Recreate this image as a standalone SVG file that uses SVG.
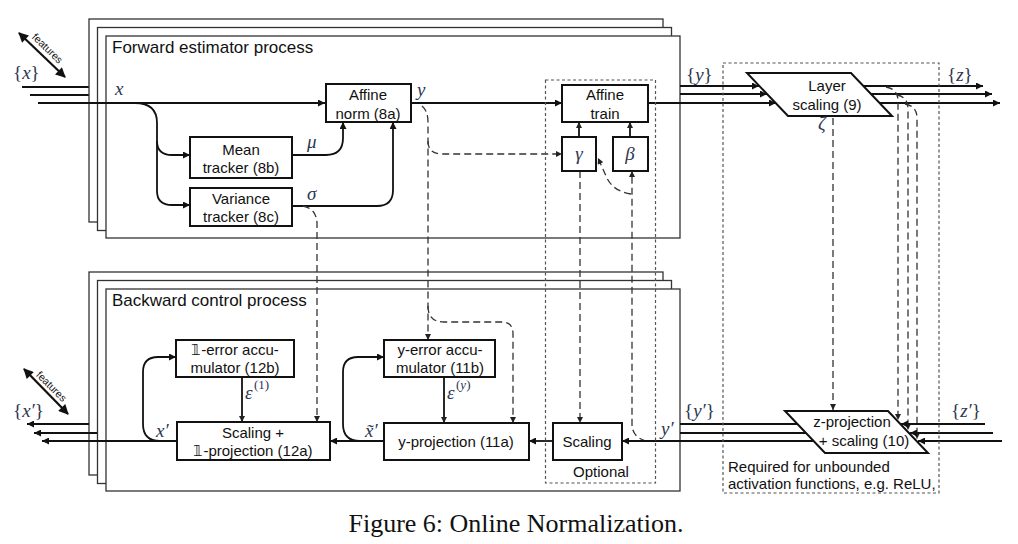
<svg xmlns="http://www.w3.org/2000/svg" width="1018" height="544" viewBox="0 0 1018 544">
<defs>
<style>
.fr{fill:#fff;stroke:#333;stroke-width:1.3}
.bx{fill:#fff;stroke:#111;stroke-width:2}
.ln{fill:none;stroke:#111;stroke-width:1.8}
.da{fill:none;stroke:#333;stroke-width:1.3;stroke-dasharray:7 4}
.dot{fill:none;stroke:#555;stroke-width:1.2;stroke-dasharray:3 2.5}
.t{font-family:"Liberation Sans",Arial,sans-serif;font-size:15px;fill:#111;text-anchor:middle}
.ts{font-family:"Liberation Sans",Arial,sans-serif;font-size:15px;fill:#111}
.ti{font-family:"Liberation Sans",Arial,sans-serif;font-size:17px;fill:#111}
.f{font-family:"Liberation Sans",Arial,sans-serif;font-size:10.5px;fill:#111;text-anchor:middle}
.m{font-family:"Liberation Serif","DejaVu Serif",serif;font-style:italic;font-size:19px;fill:#2e3650}
.up{font-style:normal}
.sup{font-family:"Liberation Serif","DejaVu Serif",serif;font-size:13px;fill:#2e3650}
.cap{font-family:"Liberation Serif","Times New Roman",serif;font-size:26px;fill:#111;text-anchor:middle}
</style>
<marker id="ah" viewBox="0 0 10 10" refX="10" refY="5" markerWidth="9" markerHeight="7" markerUnits="userSpaceOnUse" orient="auto"><path d="M0,0 L10,5 L0,10 z" fill="#111"/></marker>
<marker id="ahs" viewBox="0 0 10 10" refX="10" refY="5" markerWidth="8" markerHeight="6" markerUnits="userSpaceOnUse" orient="auto"><path d="M0,0 L10,5 L0,10 z" fill="#222"/></marker>
<marker id="big" viewBox="0 0 10 10" refX="9" refY="5" markerWidth="12" markerHeight="10" markerUnits="userSpaceOnUse" orient="auto-start-reverse"><path d="M0,0 L10,5 L0,10 z" fill="#111"/></marker>
</defs>
<rect width="1018" height="544" fill="#fff"/>

<!-- external input lines -->
<g id="inputs">
<line class="ln" x1="22" y1="87" x2="89" y2="87"/>
<line class="ln" x1="30" y1="95" x2="97" y2="95"/>
</g>

<!-- forward frames -->
<g id="forward-frames">
<rect class="fr" x="89" y="19" width="574" height="203"/>
<rect class="fr" x="97.5" y="27.5" width="574" height="203"/>
<rect class="fr" x="106" y="36" width="574" height="202"/>
<text class="ti" x="112" y="53">Forward estimator process</text>
</g>

<!-- backward frames -->
<g id="backward-frames">
<rect class="fr" x="89" y="272" width="574" height="203"/>
<rect class="fr" x="97.5" y="280.5" width="574" height="203"/>
<rect class="fr" x="106" y="289" width="574" height="202"/>
<text class="ti" x="112" y="306">Backward control process</text>
</g>

<!-- connectors -->
<g id="connectors">
<!-- forward solid -->
<line class="ln" x1="38" y1="103" x2="325" y2="103" marker-end="url(#ah)"/>
<path class="ln" d="M135 103 Q157 103 157 123 L157 141 Q157 155 172 155 L190 155" marker-end="url(#ah)"/>
<path class="ln" d="M157 141 L157 191 Q157 205 172 205 L190 205" marker-end="url(#ah)"/>
<path class="ln" d="M292 155 L326 155 Q343 155 343 138 L343 122" marker-end="url(#ah)"/>
<path class="ln" d="M292 206 L377 206 Q393 206 393 190 L393 122" marker-end="url(#ah)"/>
<line class="ln" x1="411" y1="103" x2="562" y2="103" marker-end="url(#ah)"/>
<line class="ln" x1="579" y1="137" x2="579" y2="122" marker-end="url(#ahs)"/>
<line class="ln" x1="630" y1="137" x2="630" y2="122" marker-end="url(#ahs)"/>
<line class="ln" x1="648" y1="103" x2="776" y2="103" marker-end="url(#ah)"/>
<line class="ln" x1="680" y1="86" x2="759" y2="86" marker-end="url(#ah)"/>
<line class="ln" x1="680" y1="94" x2="767" y2="94" marker-end="url(#ah)"/>
<line class="ln" x1="863" y1="86" x2="983" y2="86" marker-end="url(#ah)"/>
<line class="ln" x1="871" y1="94" x2="992" y2="94" marker-end="url(#ah)"/>
<line class="ln" x1="880" y1="103" x2="1000" y2="103" marker-end="url(#ah)"/>
<!-- forward dashed -->
<path class="da" d="M422 106 Q428 111 428 122 L428 340" marker-end="url(#ahs)"/>
<path class="da" d="M428 141 Q428 154 442 154 L562 154" marker-end="url(#ahs)"/>
<path class="da" d="M428 306 Q428 322 444 322 L502 322 Q513 322 513 334 L513 423" marker-end="url(#ahs)"/>
<path class="da" d="M303 206 Q317 209 317 224 L317 422" marker-end="url(#ahs)"/>
<line class="da" x1="580" y1="171" x2="580" y2="423" marker-end="url(#ahs)"/>
<path class="da" d="M646 441 Q632 437 632 424 L632 171" marker-end="url(#ahs)"/>
<path class="da" d="M631 194 Q612 191 606 176 L598 158" marker-end="url(#ahs)"/>
<line class="da" x1="833" y1="118" x2="833" y2="410" marker-end="url(#ahs)"/>
<path class="da" d="M886 87 Q898 89 898 101 L898 420" marker-end="url(#ahs)"/>
<path class="da" d="M897 95 Q908 97 908 109 L908 430" marker-end="url(#ahs)"/>
<path class="da" d="M905 104 Q917 106 917 118 L917 439" marker-end="url(#ahs)"/>
<!-- backward solid -->
<line class="ln" x1="1002" y1="441" x2="918" y2="441" marker-end="url(#ah)"/>
<line class="ln" x1="993" y1="433" x2="910" y2="433" marker-end="url(#ah)"/>
<line class="ln" x1="985" y1="424" x2="901" y2="424" marker-end="url(#ah)"/>
<line class="ln" x1="814" y1="441" x2="622" y2="441" marker-end="url(#ah)"/>
<line class="ln" x1="806" y1="433" x2="680" y2="433"/>
<line class="ln" x1="797" y1="424" x2="680" y2="424"/>
<line class="ln" x1="553" y1="441" x2="529" y2="441" marker-end="url(#ah)"/>
<line class="ln" x1="384" y1="441" x2="330" y2="441" marker-end="url(#ah)"/>
<path class="ln" d="M360 441 Q343 441 343 424 L343 372 Q343 357 358 357 L384 357" marker-end="url(#ah)"/>
<line class="ln" x1="444" y1="377" x2="444" y2="423" marker-end="url(#ahs)"/>
<line class="ln" x1="242" y1="377" x2="242" y2="422" marker-end="url(#ahs)"/>
<line class="ln" x1="177" y1="441" x2="42" y2="441" marker-end="url(#ah)"/>
<line class="ln" x1="97" y1="433" x2="34" y2="433" marker-end="url(#ah)"/>
<line class="ln" x1="89" y1="424" x2="27" y2="424" marker-end="url(#ah)"/>
<path class="ln" d="M160 441 Q143 441 143 424 L143 372 Q143 357 158 357 L176 357" marker-end="url(#ah)"/>
<!-- features arrows -->
<line x1="19" y1="33" x2="65" y2="77" stroke="#111" stroke-width="2.2" marker-start="url(#big)" marker-end="url(#big)"/>
<text class="f" transform="translate(45,51) rotate(44)">features</text>
<line x1="24" y1="369" x2="68" y2="414" stroke="#111" stroke-width="2.2" marker-start="url(#big)" marker-end="url(#big)"/>
<text class="f" transform="translate(49,389) rotate(45)">features</text>
</g>

<!-- nodes -->
<g id="mean-tracker"><rect class="bx" x="190" y="137" width="102" height="41"/><text class="t" x="241" y="155">Mean</text><text class="t" x="241" y="173">tracker (8b)</text></g>
<g id="variance-tracker"><rect class="bx" x="190" y="188" width="102" height="38"/><text class="t" x="241" y="204">Variance</text><text class="t" x="241" y="222">tracker (8c)</text></g>
<g id="affine-norm"><rect class="bx" x="326" y="84" width="85" height="38"/><text class="t" x="368" y="100">Affine</text><text class="t" x="368" y="119">norm (8a)</text></g>
<g id="affine-train"><rect class="bx" x="562" y="85" width="86" height="37"/><text class="t" x="605" y="100">Affine</text><text class="t" x="605" y="119">train</text></g>
<g id="gamma"><rect class="bx" x="562" y="137" width="34" height="34"/><text class="m" x="579" y="160" text-anchor="middle">γ</text></g>
<g id="beta"><rect class="bx" x="613" y="137" width="35" height="34"/><text class="m" x="630" y="160" text-anchor="middle">β</text></g>
<g id="layer-scaling"><polygon class="bx" points="747,73 851,73 892,116 788,116"/><text class="t" x="827" y="91">Layer</text><text class="t" x="827" y="110">scaling (9)</text></g>
<g id="z-projection"><polygon class="bx" points="785,411 888,411 928,453 825,453"/><text class="t" x="852" y="427">z-projection</text><text class="t" x="864" y="446">+ scaling (10)</text></g>
<g id="scaling"><rect class="bx" x="553" y="423" width="69" height="37"/><text class="t" x="587" y="447">Scaling</text></g>
<g id="y-projection"><rect class="bx" x="384" y="423" width="145" height="37"/><text class="t" x="456" y="447">y-projection (11a)</text></g>
<g id="y-error-accumulator"><rect class="bx" x="384" y="340" width="111" height="37"/><text class="t" x="440" y="355">y-error accu-</text><text class="t" x="440" y="373">mulator (11b)</text></g>
<g id="one-error-accumulator"><rect class="bx" x="176" y="340" width="118" height="37"/><text class="t" x="235" y="355">𝟙-error accu-</text><text class="t" x="235" y="373">mulator (12b)</text></g>
<g id="scaling-one-projection"><rect class="bx" x="177" y="422" width="153" height="38"/><text class="t" x="253" y="438">Scaling +</text><text class="t" x="253" y="456">𝟙-projection (12a)</text></g>

<!-- dotted regions -->
<g id="optional-region"><rect class="dot" x="545.5" y="80" width="110" height="403"/><text class="t" x="601" y="477">Optional</text></g>
<g id="required-region"><rect class="dot" x="723" y="63" width="216" height="430"/><text class="ts" x="728" y="472">Required for unbounded</text><text class="ts" x="728" y="489">activation functions, e.g. ReLU,</text></g>

<!-- math labels -->
<g id="labels">
<text class="m" x="13" y="79"><tspan class="up">{</tspan>x<tspan class="up">}</tspan></text>
<text class="m" x="115" y="95">x</text>
<text class="m" x="307" y="148">μ</text>
<text class="m" x="307" y="200">σ</text>
<text class="m" x="417" y="96">y</text>
<text class="m" x="686" y="81"><tspan class="up">{</tspan>y<tspan class="up">}</tspan></text>
<text class="m" x="947" y="81"><tspan class="up">{</tspan>z<tspan class="up">}</tspan></text>
<text class="m" x="818" y="130">ζ</text>
<text class="m" x="684" y="417"><tspan class="up">{</tspan>y′<tspan class="up">}</tspan></text>
<text class="m" x="951" y="417"><tspan class="up">{</tspan>z′<tspan class="up">}</tspan></text>
<text class="m" x="661" y="435">y′</text>
<text class="m" x="365" y="437">x̃′</text>
<text class="m" x="156" y="437">x′</text>
<text class="m" x="245" y="399">ε</text><text class="sup" x="254" y="389">(1)</text>
<text class="m" x="447" y="399">ε</text><text class="sup" x="456" y="389">(<tspan font-style="italic">y</tspan>)</text>
<text class="m" x="13" y="417"><tspan class="up">{</tspan>x′<tspan class="up">}</tspan></text>
</g>

<text class="cap" x="516" y="532">Figure 6: Online Normalization.</text>
</svg>
